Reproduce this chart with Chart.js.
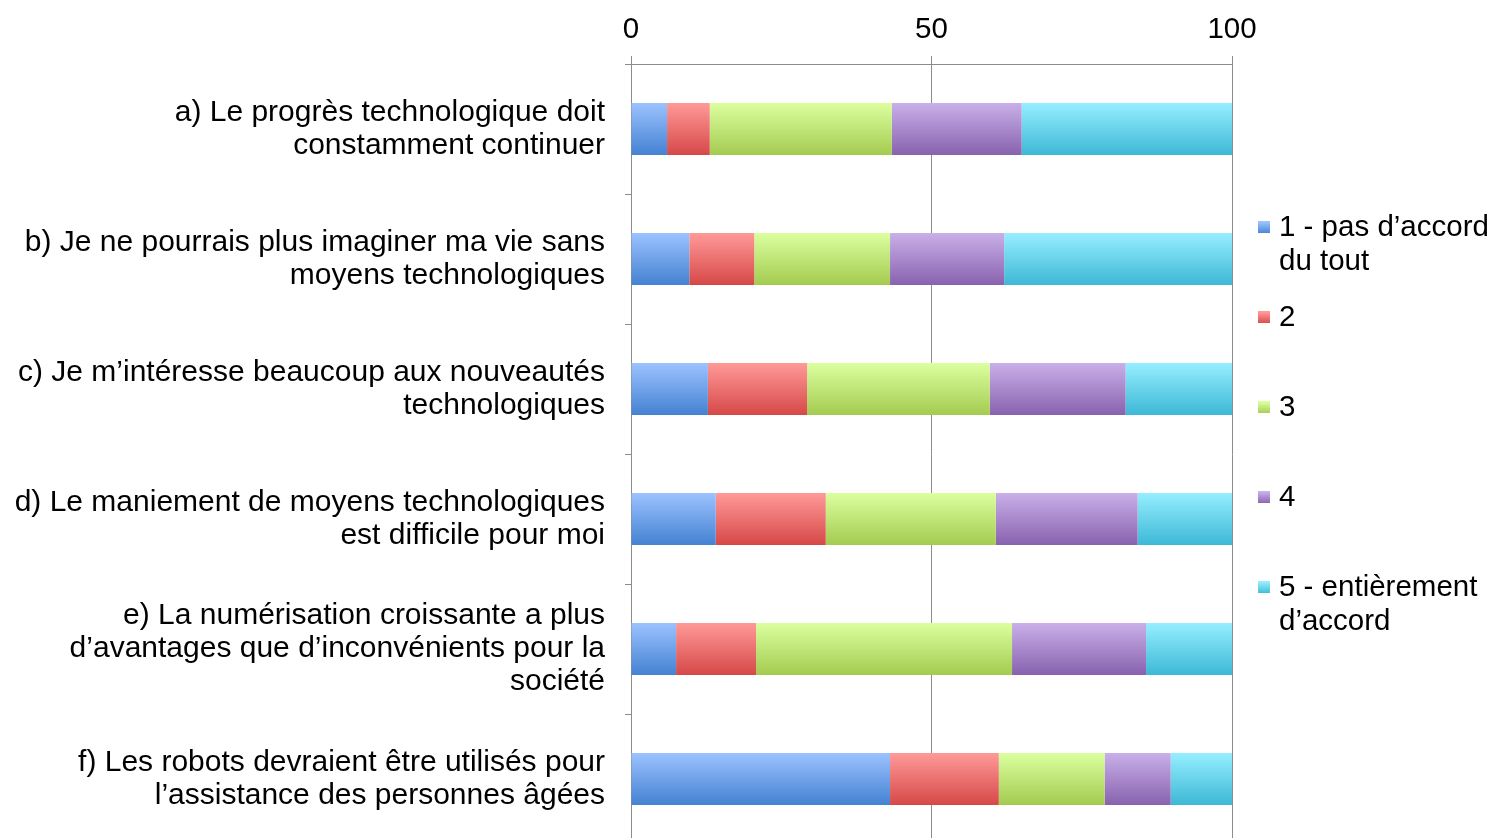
<!DOCTYPE html>
<html>
<head>
<meta charset="utf-8">
<script src="https://cdn.jsdelivr.net/npm/chart.js@4.4.1/dist/chart.umd.min.js"></script>
<style>
  html, body { margin: 0; padding: 0; background: #fff; overflow: hidden; }
  canvas { display: block; }
</style>
</head>
<body>
<canvas id="chart" width="1494" height="844"></canvas>
<script>
// Statements (y categories)
const statements = [
    ["a) Le progrès technologique doit", "constamment continuer"],
    ["b) Je ne pourrais plus imaginer ma vie sans", "moyens technologiques"],
    ["c) Je m’intéresse beaucoup aux nouveautés", "technologiques"],
    ["d) Le maniement de moyens technologiques", "est difficile pour moi"],
    ["e) La numérisation croissante a plus", "d’avantages que d’inconvénients pour la", "société"],
    ["f) Les robots devraient être utilisés pour", "l’assistance des personnes âgées"]
];

// Shares per answer (percent)
const rating1 = [6.0, 9.7, 12.8, 14.1, 7.5, 43.1];
const rating2 = [7.1, 10.8, 16.5, 18.3, 13.3, 18.1];
const rating3 = [30.3, 22.6, 30.4, 28.3, 42.6, 17.6];
const rating4 = [21.6, 19.0, 22.6, 23.6, 22.3, 11.0];
const rating5 = [35.0, 37.9, 17.7, 15.7, 14.3, 10.2];

const ratingLabels = [
    ["1 - pas d’accord", "du tout"],
    ["2"],
    ["3"],
    ["4"],
    ["5 - entièrement", "d’accord"]
];

const xTicks = [0, 50, 100];

// Excel-ish gradient pairs (top, bottom)
const palette = [
    ['#9cc2ff', '#4482d2'],
    ['#ff9a98', '#d64848'],
    ['#dcff9f', '#a4cb50'],
    ['#c9b0e9', '#8862ae'],
    ['#96eeff', '#3db8d6']
];

const FONT = '"Liberation Sans", Arial, sans-serif';
const FSIZE = 29.5;
const BAR_PCT = 0.4;

function barGradient(ctx, i) {
    const chart = ctx.chart;
    const y = chart.scales.y;
    if (!chart.chartArea || !y || ctx.dataIndex === undefined) return palette[i][0];
    const c = y.getPixelForValue(ctx.dataIndex);
    const half = Math.abs(y.getPixelForValue(1) - y.getPixelForValue(0)) * BAR_PCT / 2;
    const g = chart.ctx.createLinearGradient(0, c - half, 0, c + half);
    g.addColorStop(0, palette[i][0]);
    g.addColorStop(1, palette[i][1]);
    return g;
}

const series = [rating1, rating2, rating3, rating4, rating5];
const datasets = series.map((vals, i) => ({
    label: ratingLabels[i].join(' '),
    data: vals,
    backgroundColor: ctx => barGradient(ctx, i),
    borderWidth: 0,
    categoryPercentage: 1,
    barPercentage: BAR_PCT
}));

// Custom legend at the right, multi-line labels
const sideLegend = {
    id: 'sideLegend',
    afterDraw(chart) {
        const c = chart.ctx;
        const x0 = 1258, firstY = 228, step = 90, lineH = 34, box = 12;
        c.save();
        c.font = FSIZE + 'px ' + FONT;
        c.textBaseline = 'middle';
        c.textAlign = 'left';
        ratingLabels.forEach((lines, i) => {
            const yy = firstY + i * step;
            const g = c.createLinearGradient(0, yy - box / 2, 0, yy + box / 2);
            g.addColorStop(0, palette[i][0]);
            g.addColorStop(1, palette[i][1]);
            c.fillStyle = g;
            c.fillRect(x0, yy - box / 2 - 1, box, box);
            c.fillStyle = '#000';
            lines.forEach((t, k) => c.fillText(t, x0 + 21, yy + k * lineH));
        });
        c.restore();
    }
};

new Chart(document.getElementById('chart'), {
    type: 'bar',
    data: { labels: statements, datasets: datasets },
    options: {
        indexAxis: 'y',
        responsive: false,
        animation: false,
        layout: { padding: { left: 0, top: 0, right: 262, bottom: 0 } },
        plugins: {
            legend: { display: false },
            tooltip: { enabled: false }
        },
        scales: {
            x: {
                position: 'top',
                stacked: true,
                min: 0,
                max: 100,
                afterFit: s => { s.height = 64; },
                afterBuildTicks: s => { s.ticks = xTicks.map(v => ({ value: v })); },
                ticks: { color: '#000', font: { family: FONT, size: FSIZE }, padding: 8 },
                grid: { color: '#8c8c8c', lineWidth: 1, tickLength: 8 },
                border: { color: '#8c8c8c' }
            },
            y: {
                stacked: true,
                afterFit: s => { s.width = 631; s.paddingTop = 0; s.paddingBottom = 0; },
                ticks: { color: '#000', font: { family: FONT, size: 30, lineHeight: 33 / 30 }, padding: 20 },
                grid: { drawOnChartArea: false, offset: true, color: '#8c8c8c', tickLength: 6 },
                border: { color: '#8c8c8c' }
            }
        }
    },
    plugins: [sideLegend]
});
</script>
</body>
</html>
